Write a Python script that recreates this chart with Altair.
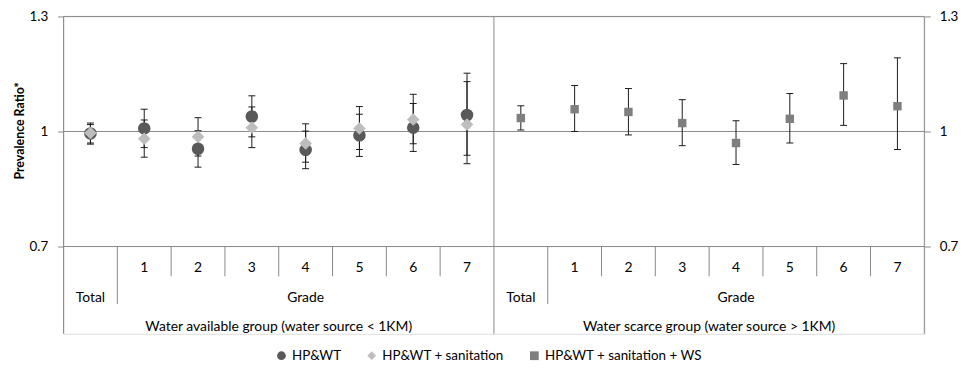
import altair as alt
import pandas as pd

categories = ["Total", "1", "2", "3", "4", "5", "6", "7"]
groups = ["Water available group (water source < 1KM)", "Water scarce group (water source > 1KM)"]
series = ["HP&WT", "HP&WT + sanitation", "HP&WT + sanitation + WS"]

# Water available group
hpwt = [0.995, 1.008, 0.955, 1.039, 0.952, 0.990, 1.010, 1.043]
hpwt_lo = [0.967, 0.958, 0.907, 0.986, 0.903, 0.935, 0.948, 0.938]
hpwt_hi = [1.022, 1.058, 1.002, 1.093, 1.001, 1.045, 1.073, 1.152]
san = [0.996, 0.981, 0.986, 1.010, 0.969, 1.008, 1.031, 1.018]
san_lo = [0.970, 0.933, 0.936, 0.958, 0.920, 0.953, 0.968, 0.916]
san_hi = [1.018, 1.030, 1.036, 1.064, 1.020, 1.065, 1.097, 1.130]
# Water scarce group
ws = [1.035, 1.058, 1.051, 1.022, 0.970, 1.033, 1.094, 1.066]
ws_lo = [1.004, 1.000, 0.991, 0.963, 0.914, 0.970, 1.016, 0.953]
ws_hi = [1.067, 1.120, 1.112, 1.083, 1.028, 1.099, 1.177, 1.192]

y_ticks = [0.7, 1.0, 1.3]

FONT = "Lato"
GRID = "#898989"
W, H = 868, 320
Y_TOP = 1.3
Y_BOT = 0.4725
ROW1_BOT, ROW2_BOT = 0.6224, 0.55
ROW1_Y, ROW2_Y, ROW3_Y = 0.644, 0.566, 0.491
n = len(categories)

rows = []
for i in range(n):
    rows.append(dict(pos=i + 0.5, series=series[0], v=hpwt[i], lo=hpwt_lo[i], hi=hpwt_hi[i]))
    rows.append(dict(pos=i + 0.5, series=series[1], v=san[i], lo=san_lo[i], hi=san_hi[i]))
    rows.append(dict(pos=n + i + 0.5, series=series[2], v=ws[i], lo=ws_lo[i], hi=ws_hi[i]))
df = pd.DataFrame(rows)

xs = alt.Scale(domain=[0, 2 * n], nice=False, zero=False)
ys = alt.Scale(domain=[Y_BOT, Y_TOP], nice=False, zero=False)

# horizontal lines
hl = pd.DataFrame({"y": y_ticks, "x": [0] * 3, "x2": [2 * n] * 3})
hlines = alt.Chart(hl).mark_rule(color=GRID, strokeWidth=1).encode(
    x=alt.X("x:Q", scale=xs, axis=None),
    x2="x2:Q",
    y=alt.Y("y:Q", scale=ys, axis=alt.Axis(orient="right", values=y_ticks, format="~g", grid=False,
                                             domain=False, ticks=True, tickColor=GRID, tickSize=6,
                                             labelPadding=9, labelFont=FONT, labelFontSize=13.5,
                                             labelColor="#000", title=None)),
)

# vertical separators
vrows = []
for g in range(2):
    b = g * n
    vrows.append(dict(x=b, y=Y_TOP, y2=Y_BOT))
    vrows.append(dict(x=b + 1, y=0.7, y2=ROW2_BOT))
    for k in range(2, n):
        vrows.append(dict(x=b + k, y=0.7, y2=ROW1_BOT))
vrows.append(dict(x=2 * n, y=Y_TOP, y2=Y_BOT))
vl = pd.DataFrame(vrows)
vlines = alt.Chart(vl).mark_rule(color=GRID, strokeWidth=1).encode(
    x=alt.X("x:Q", scale=xs, axis=None),
    y=alt.Y("y:Q", scale=ys, axis=None),
    y2="y2:Q",
)

base = alt.Chart(df)
ebar = base.mark_rule(color="#1a1a1a", strokeWidth=1).encode(
    x=alt.X("pos:Q", scale=xs, axis=None),
    y=alt.Y("lo:Q", scale=ys, axis=None),
    y2="hi:Q",
)
cap_lo = base.mark_point(shape="stroke", size=49, filled=False, strokeWidth=1, color="#1a1a1a", opacity=1).encode(
    x=alt.X("pos:Q", scale=xs, axis=None),
    y=alt.Y("lo:Q", scale=ys, axis=None),
)
cap_hi = base.mark_point(shape="stroke", size=49, filled=False, strokeWidth=1, color="#1a1a1a", opacity=1).encode(
    x=alt.X("pos:Q", scale=xs, axis=None),
    y=alt.Y("hi:Q", scale=ys, axis=None),
)

points = base.mark_point(filled=True, opacity=1).encode(
    x=alt.X("pos:Q", scale=xs, axis=None),
    y=alt.Y("v:Q", scale=ys, axis=alt.Axis(orient="left", values=y_ticks, format="~g", grid=False,
                                             domain=False, ticks=True, tickColor=GRID, tickSize=6,
                                             labelPadding=10, labelFont=FONT, labelFontSize=13.5,
                                             labelColor="#000", title="Prevalence Ratio*",
                                             titleFont=FONT, titleFontSize=12.5, titleFontWeight="bold",
                                             titleColor="#000", titlePadding=3, titleY=115)),
    color=alt.Color("series:N", scale=alt.Scale(domain=series, range=["#595959", "#BDBDBD", "#7F7F7F"]),
                    legend=alt.Legend(title=None, orient="none", direction="horizontal",
                                      legendX=213, legendY=335, symbolSize=78, labelFont=FONT,
                                      labelFontSize=13.5, labelColor="#000", columnPadding=24,
                                      labelOffset=4, symbolStrokeWidth=0, padding=0)),
    shape=alt.Shape("series:N", scale=alt.Scale(domain=series, range=["circle", "diamond", "square"])),
    size=alt.condition(alt.datum.series == series[2], alt.value(72), alt.value(160)),
)

# category labels
lab = []
for g in range(2):
    b = g * n
    for i in range(1, n):
        lab.append(dict(x=b + i + 0.5, y=ROW1_Y, t=categories[i]))
    lab.append(dict(x=b + 0.5, y=ROW2_Y, t=categories[0]))
    lab.append(dict(x=b + (1 + n) / 2, y=ROW2_Y, t="Grade"))
    lab.append(dict(x=b + n / 2, y=ROW3_Y, t=groups[g]))
ldf = pd.DataFrame(lab)
labels = alt.Chart(ldf).mark_text(font=FONT, fontSize=14, color="#000", baseline="middle", align="center").encode(
    x=alt.X("x:Q", scale=xs, axis=None),
    y=alt.Y("y:Q", scale=ys, axis=None),
    text="t:N",
)

chart = alt.layer(hlines, vlines, ebar, cap_lo, cap_hi, points, labels).resolve_axis(y="independent").properties(
    width=W, height=H, padding={"top": 0, "left": 5, "right": 5, "bottom": 5}
).configure_view(stroke=None).configure(background="white")

chart.save("out.html", embed_options={"renderer": "svg", "actions": False})
